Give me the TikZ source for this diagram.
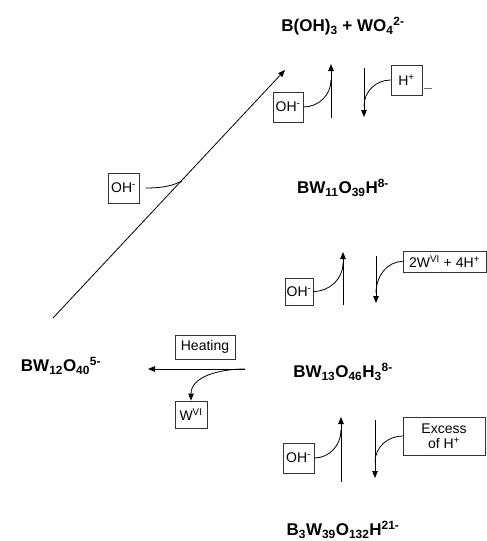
\documentclass[tikz,border=0pt]{standalone}
\usepackage{fontspec}
\setmainfont{Liberation Sans}
\usetikzlibrary{arrows.meta}
\begin{document}
\begin{tikzpicture}[x=1pt,y=-1pt,
  species/.style={font=\fontsize{17}{20}\selectfont\bfseries, inner sep=0pt},
  reagent/.style={draw=black!80, line width=0.8pt, font=\fontsize{14}{16}\selectfont,
    inner sep=0pt, align=center},
  link/.style={line width=0.8pt},
  arr/.style={line width=0.8pt, -{Triangle[length=7pt,width=5.5pt]}}]
\useasboundingbox (0,0) rectangle (487,541);

% species
\node[species] (borate) at (343,26) {B(OH)\textsubscript{3} + WO\textsubscript{4}\textsuperscript{2-}};
\node[species] (bw11)   at (343,188) {BW\textsubscript{11}O\textsubscript{39}H\textsuperscript{8-}};
\node[species] (bw12)   at (61,366) {BW\textsubscript{12}O\textsubscript{40}\textsuperscript{5-}};
\node[species] (bw13)   at (343,372) {BW\textsubscript{13}O\textsubscript{46}H\textsubscript{3}\textsuperscript{8-}};
\node[species] (b3w39)  at (343,530) {B\textsubscript{3}W\textsubscript{39}O\textsubscript{132}H\textsuperscript{21-}};

% reagent boxes
\node[reagent, minimum width=30pt, minimum height=30pt] (ohA) at (288,107) {OH\textsuperscript{-}};
\node[reagent, minimum width=31pt, minimum height=30pt] (hplus) at (406.5,80) {H\textsuperscript{+}};
\node[reagent, minimum width=31pt, minimum height=30pt] (ohL) at (123.5,188) {OH\textsuperscript{-}};
\node[reagent, minimum width=28pt, minimum height=27pt] (ohB) at (299,291.5) {OH\textsuperscript{-}};
\node[reagent, minimum width=83pt, minimum height=21pt] (twoW) at (444.5,261.5) {2W\textsuperscript{VI} + 4H\textsuperscript{+}};
\node[reagent, minimum width=60pt, minimum height=24pt] (heat) at (205,347) {Heating};
\node[reagent, minimum width=32pt, minimum height=27pt] (wvi) at (191,414.5) {W\textsuperscript{VI}};
\node[reagent, minimum width=31pt, minimum height=30pt] (ohC) at (298.5,458) {OH\textsuperscript{-}};
\node[reagent, minimum width=82pt, minimum height=38pt] (excess) at (444,436) {Excess\\[-1pt]of H\textsuperscript{+}};

% end points of the reaction lines
\coordinate (dStart) at (53,318);
\coordinate (dEnd)   at (285,70);
\coordinate (dJoin)  at (182,181);
\coordinate (u1a) at (331,118); \coordinate (u1b) at (331,64); \coordinate (u1j) at (331,80);
\coordinate (d1a) at (364,68);  \coordinate (d1b) at (364,117); \coordinate (d1j) at (364,106);
\coordinate (u2a) at (343,305); \coordinate (u2b) at (343,252); \coordinate (u2j) at (343,263);
\coordinate (d2a) at (376,256); \coordinate (d2b) at (376,303); \coordinate (d2j) at (376,293);
\coordinate (u3a) at (341,482); \coordinate (u3b) at (341,417); \coordinate (u3j) at (341,430);
\coordinate (d3a) at (375,420); \coordinate (d3b) at (375,478); \coordinate (d3j) at (375,462);
\coordinate (hA) at (245,369);  \coordinate (hB) at (148,369);

% BW12 -> B(OH)3 + WO4
\draw[arr] (dStart) -- (dEnd);
\draw[link] ([xshift=6pt]ohL.east) .. controls (162,188) and (172,186) .. (dJoin);

% B(OH)3 + WO4 <-> BW11
\draw[arr] (u1a) -- (u1b);
\draw[link] (ohA.east) to[out=0,in=-90] (u1j);
\draw[arr] (d1a) -- (d1b);
\draw[link] (hplus.west) to[out=180,in=90] (d1j);
\draw[black!55, line width=0.8pt] (424,88) -- (432,88);

% BW11 <-> BW13
\draw[arr] (u2a) -- (u2b);
\draw[link] (ohB.east) to[out=0,in=-90] (u2j);
\draw[arr] (d2a) -- (d2b);
\draw[link] (twoW.west) to[out=180,in=90] (d2j);

% BW13 -> BW12 on heating
\draw[arr] (hA) -- (hB);
\draw[arr] (hA) to[out=180,in=90] (wvi.north);

% BW13 <-> B3W39
\draw[arr] (u3a) -- (u3b);
\draw[link] (ohC.east) to[out=0,in=-90] (u3j);
\draw[arr] (d3a) -- (d3b);
\draw[link] (excess.west) to[out=180,in=90] (d3j);
\end{tikzpicture}
\end{document}
